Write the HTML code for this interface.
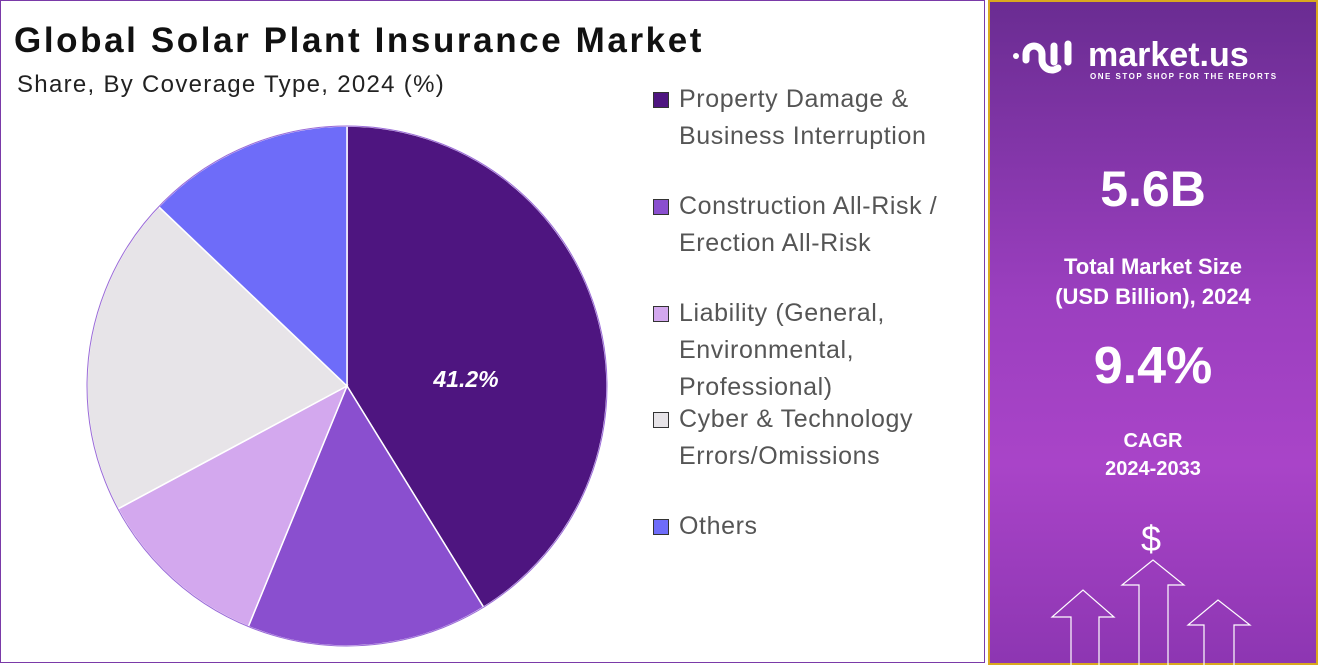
<!DOCTYPE html><html><head><style>
body{margin:0;width:1318px;height:665px;overflow:hidden;background:#fff;font-family:"Liberation Sans",sans-serif}
.main{position:absolute;left:0;top:0;width:985px;height:663px;border:1px solid #7a3aa8;box-sizing:border-box}
.t{position:absolute;left:13px;top:20px;font-size:35px;font-weight:bold;color:#111;letter-spacing:2.6px}
.s{position:absolute;left:16px;top:70px;font-size:24px;color:#222;letter-spacing:1.3px}
.lg{position:absolute;left:652px;font-size:25px;color:#555;line-height:37px;letter-spacing:0.6px}
.lg i{position:absolute;left:0;top:11px;width:16px;height:16px;border:1px solid #333;box-sizing:border-box}
.lg span{position:absolute;left:26px;top:0;white-space:nowrap}
.panel{position:absolute;left:988px;top:0;width:330px;height:665px;border:2px solid #d9a81e;box-sizing:border-box;background:linear-gradient(180deg,#6a2c92 0%,#9b3fbf 45%,#a944c8 70%,#8d36b2 100%);color:#fff;text-align:center}
.panel div{position:absolute;left:0;width:100%;font-weight:bold}
</style></head><body>
<div class="main">
<div class="t">Global Solar Plant Insurance Market</div>
<div class="s">Share, By Coverage Type, 2024 (%)</div>
<svg width="985" height="663" style="position:absolute;left:0;top:0">
<g stroke="#fff" stroke-width="1.5">
<path d="M346 385 L346 125 A260 260 0 0 1 482.6 606.2 Z" fill="#4e1580"/>
<path d="M346 385 L482.6 606.2 A260 260 0 0 1 247.3 625.6 Z" fill="#8a4fcf"/>
<path d="M346 385 L247.3 625.6 A260 260 0 0 1 116.9 507.9 Z" fill="#d3a8ee"/>
<path d="M346 385 L116.9 507.9 A260 260 0 0 1 157.7 205.7 Z" fill="#e7e4e8"/>
<path d="M346 385 L157.7 205.7 A260 260 0 0 1 346 125 Z" fill="#6e6cf9"/>
</g>
<circle cx="346" cy="385" r="260" fill="none" stroke="#9a6ad8" stroke-width="1"/>
<text x="465" y="386" fill="#fff" font-size="23" font-weight="bold" font-style="italic" text-anchor="middle" font-family="Liberation Sans">41.2%</text>
</svg>
<div class="lg" style="top:80px"><i style="background:#4e1580"></i><span>Property Damage &amp;<br>Business Interruption</span></div>
<div class="lg" style="top:187px"><i style="background:#8a4fcf"></i><span>Construction All-Risk /<br>Erection All-Risk</span></div>
<div class="lg" style="top:294px"><i style="background:#d3a8ee"></i><span>Liability (General,<br>Environmental,<br>Professional)</span></div>
<div class="lg" style="top:400px"><i style="background:#e7e4e8"></i><span>Cyber &amp; Technology<br>Errors/Omissions</span></div>
<div class="lg" style="top:507px"><i style="background:#6e6cf9"></i><span>Others</span></div>
</div>
<div class="panel">
<div style="top:34px;left:98px;width:200px;text-align:left;font-size:34px">market.us</div>
<div style="top:70px;left:100px;width:200px;text-align:left;font-size:8px;letter-spacing:1.5px">ONE STOP SHOP FOR THE REPORTS</div>
<svg width="70" height="50" style="position:absolute;left:20px;top:30px" fill="none" stroke="#fff" stroke-width="7" stroke-linecap="round">
<circle cx="6" cy="24" r="3" fill="#fff" stroke="none"/>
<path d="M16 28 V22 A8 8 0 0 1 32 22 V28 A10 10 0 0 0 48 36"/>
<path d="M44 14 V30"/><path d="M58 12 V30"/>
</svg>
<div style="top:158px;font-size:50px">5.6B</div>
<div style="top:250px;font-size:22px;line-height:30px">Total Market Size<br>(USD Billion), 2024</div>
<div style="top:334px;font-size:52px">9.4%</div>
<div style="top:425px;font-size:20px;line-height:28px">CAGR<br>2024-2033</div>
<div style="top:516px;font-size:36px;font-weight:normal;left:-2px">$</div>
<svg width="330" height="665" style="position:absolute;left:-2px;top:-2px" fill="none" stroke="#fff" stroke-width="1.2">
<path d="M83 667 V617 H64 L95 590 L126 617 H111 V667"/>
<path d="M151 667 V585 H134 L165 560 L196 585 H180 V667"/>
<path d="M216 667 V625 H200 L230 600 L262 625 H246 V667"/>
</svg>
</div>
</body></html>
